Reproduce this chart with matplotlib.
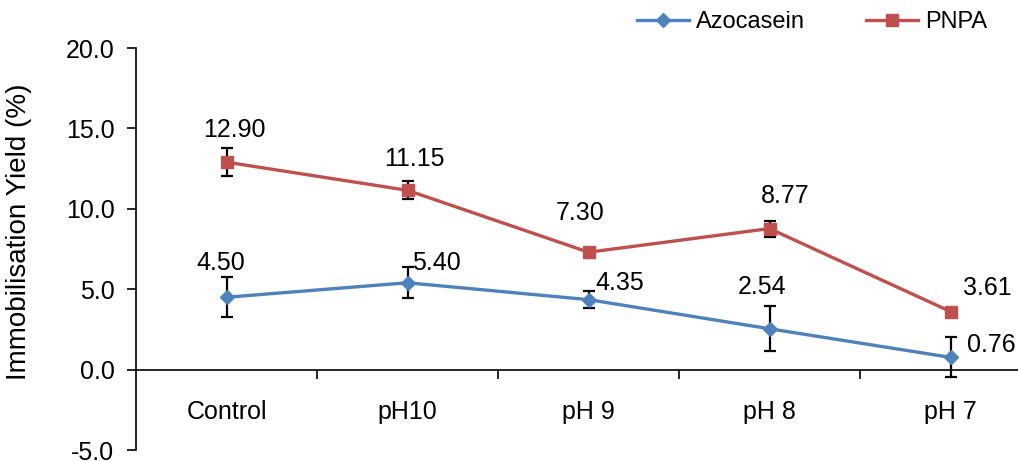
import matplotlib
matplotlib.use("Agg")
import matplotlib.pyplot as plt
from matplotlib.ticker import FormatStrFormatter, FixedLocator

plt.rcParams['font.family'] = ['Liberation Sans', 'DejaVu Sans']

categories = ["Control", "pH10", "pH 9", "pH 8", "pH 7"]
azocasein = [4.50, 5.40, 4.35, 2.54, 0.76]
azocasein_err = [1.25, 0.95, 0.55, 1.4, 1.25]
pnpa = [12.90, 11.15, 7.30, 8.77, 3.61]
pnpa_err = [0.85, 0.55, 0.2, 0.5, 0.1]
azo_labels = ["4.50", "5.40", "4.35", "2.54", "0.76"]
pnpa_labels = ["12.90", "11.15", "7.30", "8.77", "3.61"]

# label offsets in pixels (dx, dy up)
azo_off = [(-6, 34), (29, 20), (31, 17), (-7, 42), (41, 12)]
pnpa_off = [(8, 32), (7, 31), (-8, 39), (16, 33), (37, 24)]

W, H = 1018, 461
fig = plt.figure(figsize=(W/100, H/100), dpi=100)
ax = fig.add_axes([136/W, 11/H, 905/W, 402/H])

x = list(range(len(categories)))
blue = "#4F81BD"
red = "#C0504D"

ax.errorbar(x, azocasein, yerr=azocasein_err, fmt='none', ecolor='black',
            elinewidth=1.6, capsize=4, capthick=1.6, zorder=3)
ax.errorbar(x, pnpa, yerr=pnpa_err, fmt='none', ecolor='black',
            elinewidth=1.6, capsize=4, capthick=1.6, zorder=3)
ax.plot(x, azocasein, color=blue, lw=2.4, marker='D', ms=7.5, label="Azocasein", zorder=4)
ax.plot(x, pnpa, color=red, lw=2.4, marker='s', ms=9, label="PNPA", zorder=4)

fs = 18
px2pt = 72/100
for xi, v, s, (dx, dy) in zip(x, azocasein, azo_labels, azo_off):
    ax.annotate(s, (xi, v), xytext=(dx*px2pt, dy*px2pt), textcoords='offset points',
                ha='center', va='center', fontsize=fs, color='black', zorder=5)
for xi, v, s, (dx, dy) in zip(x, pnpa, pnpa_labels, pnpa_off):
    ax.annotate(s, (xi, v), xytext=(dx*px2pt, dy*px2pt), textcoords='offset points',
                ha='center', va='center', fontsize=fs, color='black', zorder=5)

ax.set_xlim(-0.5, 4.5)
ax.set_ylim(-5, 20)
ax.set_yticks([-5, 0, 5, 10, 15, 20])
ax.yaxis.set_major_formatter(FormatStrFormatter('%.1f'))
ax.tick_params(axis='y', direction='out', length=6.5, width=1.2, labelsize=fs, pad=9)

ax.set_xticks(x)
ax.set_xticklabels(categories)
ax.xaxis.set_minor_locator(FixedLocator([0.5, 1.5, 2.5, 3.5, 4.5]))
ax.tick_params(axis='x', which='major', length=0, labelsize=fs, pad=22)
ax.tick_params(axis='x', which='minor', direction='out', length=6.5, width=1.2)

ax.spines['bottom'].set_position(('data', 0))
ax.spines['top'].set_visible(False)
ax.spines['right'].set_visible(False)
for sp in ['left', 'bottom']:
    ax.spines[sp].set_linewidth(1.2)

ax.set_ylabel("Immobilisation Yield (%)", fontsize=20)
ax.yaxis.set_label_coords(-104/905, (450 - 232)/402)

leg = fig.legend(loc='center', bbox_to_anchor=(812/W, 1 - 22/H), ncol=2, frameon=False,
                 fontsize=17, handlelength=2.2, columnspacing=2.6, handletextpad=0.3)

fig.savefig("out.png", dpi=100)
